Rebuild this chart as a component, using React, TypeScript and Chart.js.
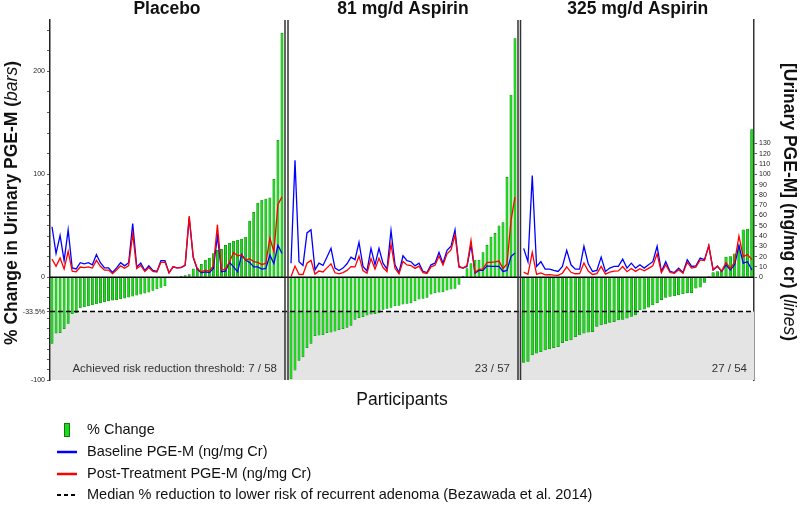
import React, { useEffect, useRef } from 'react';
import { Chart, registerables } from 'chart.js';

Chart.register(...registerables);

// ---------- data ----------
const PANEL_TITLES = ['Placebo', '81 mg/d Aspirin', '325 mg/d Aspirin'];
const PANEL_COUNTS = ['Achieved risk reduction threshold: 7 / 58', '23 / 57', '27 / 54'];
const THRESHOLD = -33.5;

const PLACEBO_PCT = [-64.5, -54.5, -54, -50, -45, -35.5, -34.5, -30, -29, -28, -27, -26, -25, -24, -23, -22.5, -22, -21, -20.5, -19.5, -18.5, -17.5, -16.5, -15.5, -14.5, -13, -11.5, -10, -8.5, 0, 0, 0, 1, 1.5, 2.5, 8, 8.5, 12.5, 16.5, 18.5, 23, 26, 27, 31, 33, 35, 36, 37, 39, 54.5, 63, 72, 75, 76, 77, 95, 133, 237];
const PLACEBO_BASE = [49, 23, 40.6, 16, 46, 9, 8, 14, 13, 14, 12, 22, 14, 9, 9, 4.5, 9, 14, 11, 14, 52, 10, 13.6, 6.5, 11, 6.5, 5.5, 16, 16, 4.2, 10, 9, 9.3, 11.5, 58, 19, 7.5, 4.2, 5.2, 4.5, 8.4, 40, 5.2, 5.8, 14.3, 10, 5.2, 22, 16.5, 14.3, 10, 10, 7.8, 8.4, 21.4, 13.3, 31, 23];
const PLACEBO_POST = [17.5, 10.5, 18.7, 8, 25, 5.8, 5.2, 9.8, 9.2, 10, 8.8, 16.3, 10.5, 6.8, 6.9, 3.5, 7, 11, 8.7, 11.3, 42, 8.3, 11.4, 5.5, 9.4, 5.7, 4.9, 14.4, 14.6, 4.2, 10, 9, 9.4, 11.7, 59.4, 19.8, 8.4, 5.2, 6.8, 5.8, 11, 51, 6.8, 7.8, 15, 24, 20.8, 21.4, 16.5, 18, 15, 14.3, 12.3, 13.3, 38, 24.7, 70.8, 78];

const A81_PCT = [-99, -90.5, -81, -77.5, -68.5, -64.5, -57, -56.5, -56, -54, -53.5, -52.5, -51, -50, -49, -47, -41, -39.5, -38.5, -37, -36, -35.4, -34.7, -31.5, -30.5, -29.5, -28, -27.6, -26.3, -25.6, -25, -23, -21.4, -20.8, -19.8, -16.5, -15.3, -14.6, -14.3, -12.7, -11.7, -11, -7.1, 1, 8.4, 13.3, 16.5, 16.5, 24, 31, 39, 42.5, 50, 53, 97, 177, 232];
const A81_BASE = [13.6, 113.6, 15, 11.4, 43, 46, 7, 13.6, 11.4, 19.5, 28, 8.8, 6.5, 8.8, 13, 19.5, 17, 33.8, 10.4, 6, 28, 12, 28, 13.6, 7.8, 45.5, 12, 4.5, 20.8, 16, 15, 11, 13.6, 5.5, 4.5, 12, 13.6, 24, 13.6, 26, 30, 46, 10.4, 8.8, 10.4, 31.5, 3.9, 6.5, 6.5, 11, 10.4, 10.4, 10.4, 5.5, 6.5, 20, 23.4];
const A81_POST = [0.3, 10.8, 2.8, 2.6, 13.5, 16.3, 3, 5.9, 5, 9, 13, 4.2, 3.2, 4.4, 6.6, 10.3, 10, 20.4, 6.4, 3.8, 18, 7.8, 18.3, 9.3, 5.4, 32, 8.6, 3.3, 15.3, 11.9, 11.3, 8.5, 10.7, 4.4, 3.6, 10, 11.5, 20.5, 11.7, 22.7, 26.5, 41, 9.7, 8.9, 11.3, 35.7, 4.5, 7.6, 8, 14.4, 14.5, 14.8, 15.6, 8.4, 12.8, 55, 77.7];

const A325_PCT = [-83, -82, -75.6, -74, -72.4, -70.8, -69.8, -68.5, -67.5, -63.6, -61.7, -61, -57.8, -56.2, -54.5, -53.6, -53, -48, -46.4, -45.5, -44, -43.2, -41.6, -41, -40, -38.3, -36.7, -31.8, -31.2, -29.2, -27, -24.7, -22, -19.8, -18.8, -18.2, -17.2, -16.2, -15, -15, -10.7, -9.7, -5.2, 0.5, 4.5, 5.5, 6.5, 19.5, 20, 22.7, 31.5, 46, 46.8, 143.5];
const A325_BASE = [28, 15, 98.7, 10.4, 15, 7.8, 7.8, 6.5, 5.5, 10.4, 26, 12, 7.8, 7.8, 30, 13, 5.5, 6.5, 19.5, 5.5, 8.8, 10.4, 10.4, 17.5, 8.8, 13.6, 8.8, 12, 8.8, 12, 15, 30, 5.5, 15, 5.5, 4.5, 8.8, 4.5, 17, 10.4, 11, 18.5, 17, 30.5, 7, 10.4, 5.5, 12, 7, 12, 30.5, 13.6, 15, 7];
const A325_POST = [4.8, 2.7, 24, 2.7, 4.1, 2.3, 2.4, 2, 1.8, 3.8, 10, 4.7, 3.3, 3.4, 13.7, 6, 2.6, 3.4, 10.5, 3, 4.9, 5.9, 6.1, 10.3, 5.3, 8.4, 5.6, 8.2, 6.1, 8.5, 11, 22.6, 4.3, 12, 4.5, 3.7, 7.3, 3.8, 14.5, 8.8, 9.8, 16.7, 16.1, 30.7, 7.3, 11, 5.9, 14.3, 8.4, 14.7, 40, 19.9, 22, 17];

const LEFT_TICKS = [-100, -90, -80, -70, -60, -50, -40, THRESHOLD, -30, -20, -10, 0, 10, 20, 30, 40, 50, 60, 70, 80, 90, 100, 120, 140, 160, 180, 200, 220, 240];
const LEFT_LABELED = [200, 100, 0, -100];
const RIGHT_TICKS = [0, 10, 20, 30, 40, 50, 60, 70, 80, 90, 100, 110, 120, 130];

const LEGEND_LABELS = ['% Change', 'Baseline PGE-M (ng/mg Cr)', 'Post-Treatment PGE-M (ng/mg Cr)', 'Median % reduction to lower risk of recurrent adenoma (Bezawada et al. 2014)'];
const X_TITLE = 'Participants';
const LEFT_TITLE = ['% Change in Urinary PGE-M (', 'bars', ')'];
const RIGHT_TITLE = ['[Urinary PGE-M] (ng/mg cr) (', 'lines', ')'];

// ---------- layout / style ----------
const FONT = '"Liberation Sans", Arial, Helvetica, sans-serif';
const X_MAX = 704;
const SPANS: [number, number][] = [[0, 234], [239, 467], [471.5, 704]];
const BAR_W = [2.3, 2.3, 2.6];
const GREEN = '#1fd81f';
const GREEN_EDGE = '#0c7a0c';
const BLUE = '#0000ff';
const RED = '#ff0000';

const PANELS = [
  { pct: PLACEBO_PCT, base: PLACEBO_BASE, post: PLACEBO_POST },
  { pct: A81_PCT, base: A81_BASE, post: A81_POST },
  { pct: A325_PCT, base: A325_BASE, post: A325_POST },
];

function xOf(k: number, i: number, n: number) {
  const [s, e] = SPANS[k];
  return s + ((i + 0.5) * (e - s)) / n;
}

function drawRotated(ctx: CanvasRenderingContext2D, parts: string[], x: number, y: number, angle: number, size: number) {
  const fonts = [`bold ${size}px ${FONT}`, `italic ${size}px ${FONT}`, `bold ${size}px ${FONT}`];
  let total = 0;
  const widths = parts.map((p, i) => {
    ctx.font = fonts[i];
    const w = ctx.measureText(p).width;
    total += w;
    return w;
  });
  ctx.save();
  ctx.translate(x, y);
  ctx.rotate(angle);
  ctx.textAlign = 'left';
  ctx.textBaseline = 'alphabetic';
  ctx.fillStyle = '#111';
  let cx = -total / 2;
  parts.forEach((p, i) => {
    ctx.font = fonts[i];
    ctx.fillText(p, cx, 0);
    cx += widths[i];
  });
  ctx.restore();
}

const overlay = {
  id: 'overlay',
  beforeDraw(chart: any) {
    chart.$refDrawn = false;
    const ctx = chart.ctx;
    ctx.save();
    ctx.fillStyle = '#ffffff';
    ctx.fillRect(0, 0, chart.width, chart.height);
    ctx.restore();
  },
  beforeDatasetsDraw(chart: any) {
    const { ctx, chartArea: a, scales } = chart;
    const yT = scales.y.getPixelForValue(THRESHOLD);
    const yB = scales.y.getPixelForValue(-100);
    ctx.save();
    ctx.fillStyle = '#e4e4e4';
    ctx.fillRect(a.left + 1, yT, a.right - a.left - 1, yB - yT);
    ctx.restore();
  },
  beforeDatasetDraw(chart: any, args: any) {
    if (args.meta.type !== 'line' || chart.$refDrawn) return;
    chart.$refDrawn = true;
    const { ctx, chartArea: a, scales } = chart;
    const y0 = scales.y.getPixelForValue(0);
    const yT = scales.y.getPixelForValue(THRESHOLD);
    ctx.save();
    ctx.strokeStyle = '#000';
    ctx.lineWidth = 1.5;
    ctx.beginPath();
    ctx.moveTo(a.left, y0);
    ctx.lineTo(a.right, y0);
    ctx.stroke();
    ctx.setLineDash([5, 3]);
    ctx.beginPath();
    ctx.moveTo(a.left, yT);
    ctx.lineTo(a.right, yT);
    ctx.stroke();
    ctx.restore();
  },
  afterDatasetsDraw(chart: any) {
    const { ctx, chartArea: a, scales } = chart;
    ctx.save();
    ctx.strokeStyle = '#333';
    ctx.lineWidth = 1.5;
    for (let k = 0; k < SPANS.length - 1; k++) {
      const xs = [scales.x.getPixelForValue(SPANS[k][1] + 1), scales.x.getPixelForValue(SPANS[k + 1][0] - 1)];
      xs.forEach((px) => {
        ctx.beginPath();
        ctx.moveTo(px, a.top);
        ctx.lineTo(px, a.bottom);
        ctx.stroke();
      });
    }
    ctx.restore();
  },
  afterDraw(chart: any) {
    const { ctx, chartArea: a, scales } = chart;
    ctx.save();
    // panel titles
    ctx.fillStyle = '#111';
    ctx.textAlign = 'center';
    ctx.textBaseline = 'alphabetic';
    ctx.font = `bold 17.5px ${FONT}`;
    SPANS.forEach(([s, e], k) => {
      const cx = scales.x.getPixelForValue((s + e) / 2);
      ctx.fillText(PANEL_TITLES[k], cx, 14);
    });
    // counts inside panels
    ctx.fillStyle = '#333';
    ctx.textAlign = 'right';
    ctx.textBaseline = 'middle';
    ctx.font = `11.5px ${FONT}`;
    SPANS.forEach(([, e], k) => {
      ctx.fillText(PANEL_COUNTS[k], scales.x.getPixelForValue(e) - 7, a.bottom - 11);
    });
    // x title
    ctx.fillStyle = '#111';
    ctx.textAlign = 'center';
    ctx.font = `17.5px ${FONT}`;
    ctx.fillText(X_TITLE, (a.left + a.right) / 2, 400);
    ctx.restore();

    // axis titles
    drawRotated(ctx, LEFT_TITLE, 16.5, 203, -Math.PI / 2, 17.5);
    drawRotated(ctx, RIGHT_TITLE, 784, 202, Math.PI / 2, 17.5);

    // legend
    ctx.save();
    const rowsY = [430, 452, 474, 495];
    const textX = 87;
    ctx.font = `14.5px ${FONT}`;
    ctx.fillStyle = '#111';
    ctx.textAlign = 'left';
    ctx.textBaseline = 'middle';
    LEGEND_LABELS.forEach((lab, i) => ctx.fillText(lab, textX, rowsY[i]));
    // icons
    ctx.fillStyle = GREEN;
    ctx.strokeStyle = GREEN_EDGE;
    ctx.lineWidth = 1;
    ctx.fillRect(64, rowsY[0] - 7, 6, 14);
    ctx.strokeRect(64.5, rowsY[0] - 6.5, 5, 13);
    ctx.lineWidth = 2.5;
    [BLUE, RED].forEach((c, j) => {
      ctx.strokeStyle = c;
      ctx.beginPath();
      ctx.moveTo(57, rowsY[j + 1]);
      ctx.lineTo(77, rowsY[j + 1]);
      ctx.stroke();
    });
    ctx.strokeStyle = '#000';
    ctx.lineWidth = 2;
    ctx.setLineDash([4, 3]);
    ctx.beginPath();
    ctx.moveTo(57, rowsY[3]);
    ctx.lineTo(78, rowsY[3]);
    ctx.stroke();
    ctx.restore();
  },
};

export default function App() {
  const ref = useRef<HTMLCanvasElement>(null);

  useEffect(() => {
    const canvas = ref.current;
    if (!canvas) return;

    const datasets: any[] = [];
    PANELS.forEach((p, k) => {
      const n = p.pct.length;
      datasets.push({
        type: 'line',
        label: 'Post-Treatment',
        data: p.post.map((v, i) => ({ x: xOf(k, i, n), y: v })),
        borderColor: RED,
        borderWidth: 1.3,
        pointRadius: 0,
        tension: 0,
        yAxisID: 'y2',
        order: 0,
      });
      datasets.push({
        type: 'line',
        label: 'Baseline',
        data: p.base.map((v, i) => ({ x: xOf(k, i, n), y: v })),
        borderColor: BLUE,
        borderWidth: 1.3,
        pointRadius: 0,
        tension: 0,
        yAxisID: 'y2',
        order: 1,
      });
      datasets.push({
        type: 'bar',
        label: '% Change',
        data: p.pct.map((v, i) => ({ x: xOf(k, i, n), y: v })),
        backgroundColor: GREEN,
        borderColor: GREEN_EDGE,
        borderWidth: 0.5,
        barThickness: BAR_W[k],
        grouped: false,
        yAxisID: 'y',
        order: 2,
      });
    });

    const chart = new Chart(canvas, {
      type: 'bar',
      data: { datasets },
      plugins: [overlay as any],
      options: {
        responsive: false,
        animation: false,
        events: [],
        layout: { padding: { top: 20, bottom: 125, left: 0, right: 0 } },
        plugins: { legend: { display: false }, tooltip: { enabled: false }, title: { display: false } },
        scales: {
          x: { type: 'linear', min: 0, max: X_MAX, display: false, offset: false, grid: { display: false } },
          y: {
            position: 'left',
            min: -100,
            max: 250,
            afterBuildTicks: (s: any) => {
              s.ticks = LEFT_TICKS.map((v) => ({ value: v }));
            },
            afterFit: (s: any) => {
              s.width = 50;
            },
            ticks: {
              autoSkip: false,
              font: { size: 7, family: FONT },
              color: '#222',
              padding: 2,
              callback: (v: any) => (v === THRESHOLD ? '-33.5%' : LEFT_LABELED.includes(v) ? String(v) : ''),
            },
            grid: { drawOnChartArea: false, drawTicks: true, tickLength: 3, tickColor: '#333', tickWidth: 0.8 },
            border: { display: true, color: '#222', width: 1.5 },
          },
          y2: {
            position: 'right',
            min: -100,
            max: 250,
            afterBuildTicks: (s: any) => {
              s.ticks = RIGHT_TICKS.map((v) => ({ value: v }));
            },
            afterFit: (s: any) => {
              s.width = 46;
            },
            ticks: { autoSkip: false, font: { size: 7, family: FONT }, color: '#222', padding: 2 },
            grid: { drawOnChartArea: false, drawTicks: true, tickLength: 3, tickColor: '#333', tickWidth: 0.8 },
            border: { display: true, color: '#333', width: 1.5 },
          },
        },
      } as any,
    });

    return () => chart.destroy();
  }, []);

  return (
    <div style={{ position: 'absolute', left: 0, top: 0, width: 800, height: 505, background: '#fff' }}>
      <canvas ref={ref} width={800} height={505} style={{ display: 'block', width: 800, height: 505 }} />
    </div>
  );
}
